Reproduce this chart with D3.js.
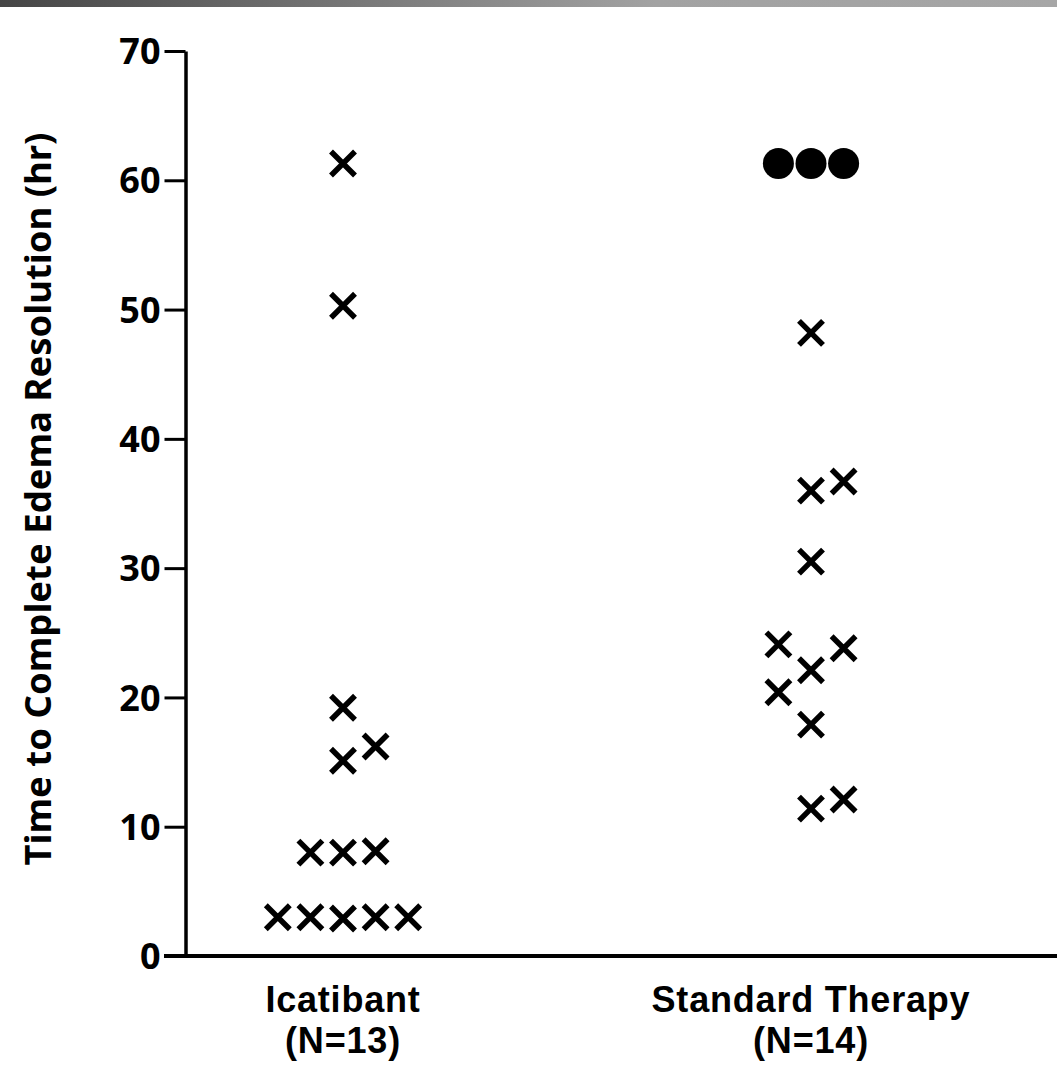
<!DOCTYPE html>
<html>
<head>
<meta charset="utf-8">
<script src="https://cdn.jsdelivr.net/npm/d3@7"></script>
<style>
  body { margin: 0; background: #fff; }
  svg { display: block; }
  text { font-family: "Noto Sans", "Open Sans", sans-serif; font-weight: bold; fill: #000; }
  .cat { font-family: "Liberation Sans", Arial, sans-serif; letter-spacing: 0.8px; }
</style>
</head>
<body>
<div id="chart"></div>
<script>
// Data
var groups = ["Icatibant", "Standard Therapy"];
var groupN = [13, 14];
var yTicks = [0, 10, 20, 30, 40, 50, 60, 70];

var icatibantHours = [61.3, 50.3, 19.2, 16.2, 15.1, 8.0, 8.0, 8.1, 3.0, 3.0, 2.9, 3.0, 3.0];
var icatibantSlot  = [0, 0, 0, 1, 0, -1, 0, 1, -2, -1, 0, 1, 2];
var icatibantKind  = ["x", "x", "x", "x", "x", "x", "x", "x", "x", "x", "x", "x", "x"];

var standardHours = [61.3, 61.3, 61.3, 48.2, 36.7, 36.0, 30.5, 24.1, 23.8, 22.1, 20.4, 17.9, 12.1, 11.4];
var standardSlot  = [-1, 0, 1, 0, 1, 0, 0, -1, 1, 0, -1, 0, 1, 0];
var standardKind  = ["dot", "dot", "dot", "x", "x", "x", "x", "x", "x", "x", "x", "x", "x", "x"];

var W = 1057, H = 1089;

var svg = d3.select("#chart")
    .append("svg")
    .attr("width", W)
    .attr("height", H);

// grey banner at the top
var grad = svg.append("defs").append("linearGradient")
    .attr("id", "topbar")
    .attr("x1", "0%").attr("x2", "100%");
grad.append("stop").attr("offset", "0%").attr("stop-color", "#454545");
grad.append("stop").attr("offset", "62%").attr("stop-color", "#a2a2a2");
grad.append("stop").attr("offset", "100%").attr("stop-color", "#a6a6a6");
svg.append("rect")
    .attr("x", 0).attr("y", 0)
    .attr("width", W).attr("height", 7)
    .attr("fill", "url(#topbar)");

// scales
var axisX = 185.5;
var y = d3.scaleLinear().domain([0, 70]).range([956, 51]);
var x = d3.scalePoint().domain(groups).range([343, 811]);
var slot = d3.scaleLinear().domain([-1, 1]).range([-32.6, 32.6]);

// build the point table
var points = [];
icatibantHours.forEach(function (v, i) {
    points.push({ group: groups[0], value: v, slot: icatibantSlot[i], kind: icatibantKind[i] });
});
standardHours.forEach(function (v, i) {
    points.push({ group: groups[1], value: v, slot: standardSlot[i], kind: standardKind[i] });
});

// y axis
var yAxis = svg.append("g")
    .attr("transform", "translate(" + axisX + ",0)")
    .call(d3.axisLeft(y).tickValues(yTicks).tickSize(21).tickSizeOuter(0).tickPadding(4));
yAxis.select(".domain").attr("stroke", "#000").attr("stroke-width", 3.5);
yAxis.selectAll(".tick line").attr("stroke", "#000").attr("stroke-width", 3);
yAxis.selectAll(".tick text")
    .attr("font-size", 36)
    .attr("font-family", null)
    .attr("fill", "#000")
    .attr("dy", "0.35em");

// x axis baseline
svg.append("line")
    .attr("x1", 164).attr("x2", W)
    .attr("y1", y(0)).attr("y2", y(0))
    .attr("stroke", "#000")
    .attr("stroke-width", 4);

// y axis title
svg.append("text")
    .attr("transform", "translate(51," + 499 + ") rotate(-90)")
    .attr("text-anchor", "middle")
    .attr("font-size", 35)
    .attr("textLength", 733)
    .attr("lengthAdjust", "spacingAndGlyphs")
    .text("Time to Complete Edema Resolution (hr)");

// category labels
var cats = svg.append("g").selectAll("g")
    .data(groups)
    .enter().append("g")
    .attr("transform", function (d) { return "translate(" + x(d) + ",0)"; });
cats.append("text")
    .attr("class", "cat")
    .attr("y", 1012)
    .attr("text-anchor", "middle")
    .attr("font-size", 36)
    .text(function (d) { return d; });
cats.append("text")
    .attr("class", "cat")
    .attr("y", 1053)
    .attr("text-anchor", "middle")
    .attr("font-size", 36)
    .text(function (d, i) { return "(N=" + groupN[i] + ")"; });

// markers
var r = 12;
var marks = svg.append("g").selectAll("g")
    .data(points)
    .enter().append("g")
    .attr("transform", function (d) {
        return "translate(" + (x(d.group) + slot(d.slot)) + "," + y(d.value) + ")";
    });

marks.filter(function (d) { return d.kind === "x"; })
    .append("path")
    .attr("d", "M" + (-r) + "," + (-r) + "L" + r + "," + r + "M" + (-r) + "," + r + "L" + r + "," + (-r))
    .attr("stroke", "#000")
    .attr("stroke-width", 5.5)
    .attr("fill", "none");

marks.filter(function (d) { return d.kind === "dot"; })
    .append("circle")
    .attr("r", 15.5)
    .attr("fill", "#000");
</script>
</body>
</html>
